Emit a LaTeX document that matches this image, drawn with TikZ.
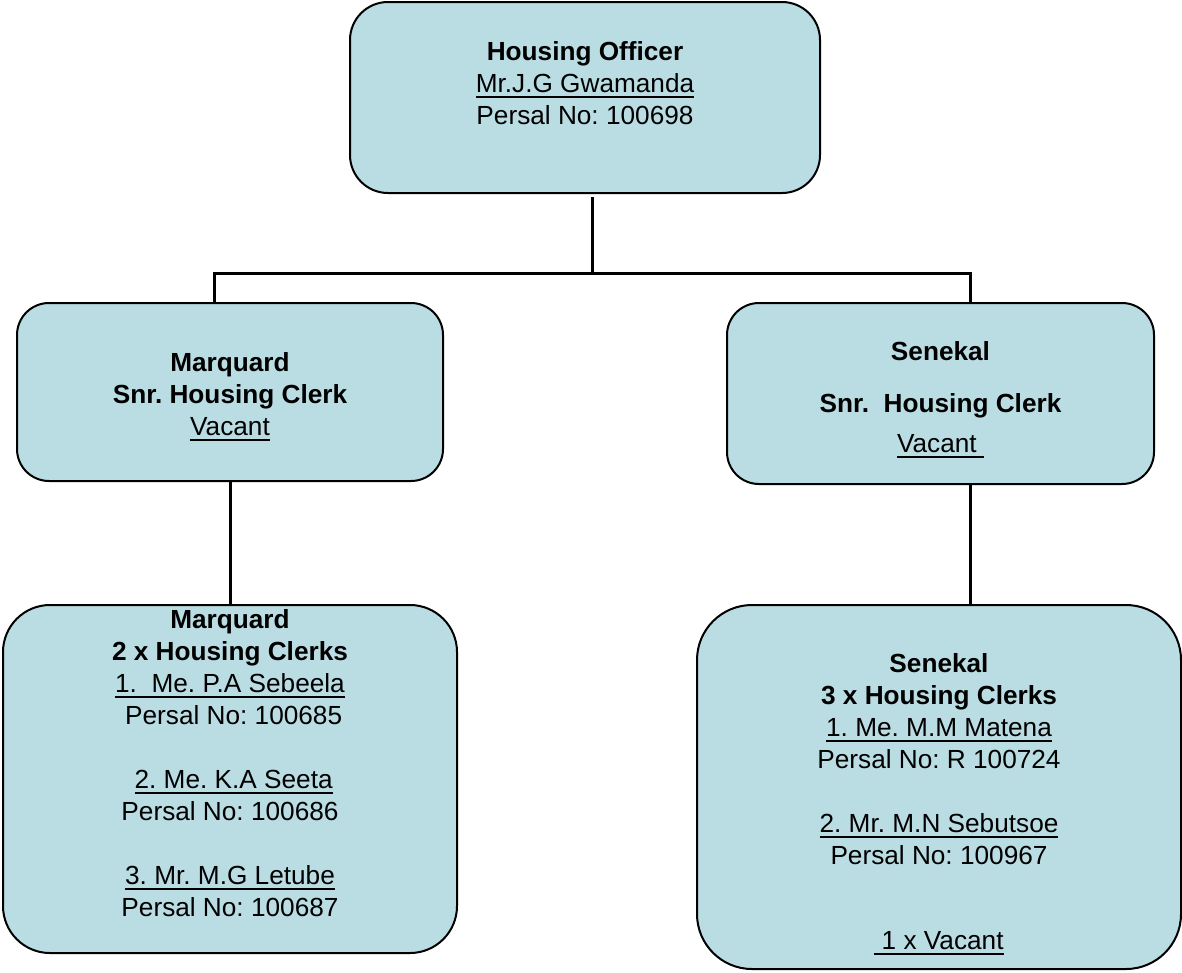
\documentclass[tikz,border=0pt]{standalone}
\usepackage{fontspec}
\setmainfont{Liberation Sans}
\usepackage{tikz}
\usetikzlibrary{positioning}
\definecolor{boxblue}{RGB}{186,221,228}
\newcommand{\uln}[1]{\setbox0\hbox{#1}\rlap{\rule[-5.7pt]{\wd0}{2pt}}\box0}
\tikzset{%
	office/.style   = {draw, rectangle, fill=boxblue, line width=2pt}, % Position box
	entry/.style    = {align=center, inner sep=0pt, font=\fontsize{26.2}{32}\selectfont\frenchspacing}, % Names
	wire/.style     = {line width=3pt}, % Connector
	waypoint/.style = {coordinate}, % Junction
}

\begin{document}
\begin{tikzpicture}[x=1pt,y=-1pt]
	\useasboundingbox (0,0) rectangle (1182,972);
	\node [office,rounded corners=38pt,minimum width=470pt,minimum height=191pt] (officer) at (585,97.5) {};
	\node [office,rounded corners=32pt,minimum width=426pt,minimum height=178pt] (marqsnr) at (230,392) {};
	\node [office,rounded corners=32pt,minimum width=427pt,minimum height=181pt] (senesnr) at (940.5,393.5) {};
	\node [office,rounded corners=47pt,minimum width=454pt,minimum height=348pt] (marqclerks) at (230,779) {};
	\node [office,rounded corners=55pt,minimum width=484pt,minimum height=364pt] (seneclerks) at (939,787) {};
	
	\node [entry] (officertxt) [below=40pt of officer.north] {\textbf{Housing Officer}\\ \uln{Mr.J.G Gwamanda}\\ Persal No: 100698};
	\node [entry] (marqsnrtxt) [below=50pt of marqsnr.north] {\textbf{Marquard}\\ \textbf{Snr. Housing Clerk}\\ \uln{Vacant}};
	\node [entry] (senesnrtxt) [below=39pt of senesnr.north] {\textbf{Senekal}\\[20pt] \textbf{Snr.\ \ Housing Clerk}\\[8pt] \uln{Vacant\ }};
	\node [entry] (marqclerkstxt) [below=5pt of marqclerks.north] {\textbf{Marquard}\\ \textbf{2 x Housing Clerks}\\ \uln{1.\ \ Me. P.A Sebeela}\\ \hspace*{.278em}Persal No: 100685\\[32pt] \hspace*{.278em}\uln{2. Me. K.A Seeta}\\ Persal No: 100686\\[32pt] \uln{3. Mr. M.G Letube}\\ Persal No: 100687};
	\node [entry] (seneclerkstxt) [below=49pt of seneclerks.north] {\textbf{Senekal}\\ \textbf{3 x Housing Clerks}\\ \uln{1. Me. M.M Matena}\\ Persal No: R 100724\\[32pt] \uln{2. Mr. M.N Sebutsoe}\\ Persal No: 100967\\[53pt] \uln{\ 1 x Vacant}};
	
	\node [waypoint] (jtop) at (592.5,273.5) {};
	\node [waypoint] (jleft) at (214,273.5) {};
	\node [waypoint] (jright) at (970,273.5) {};
	
	\draw [wire,shorten <=3pt] (officer.south -| jtop) -- (jtop);
	\draw [wire] (marqsnr.north -| jleft) -- (jleft) -- (jright) -- (senesnr.north -| jright);
	\draw [wire] (marqsnr.south) -- (marqclerks.north);
	\draw [wire] (senesnr.south -| jright) -- (seneclerks.north -| jright);
\end{tikzpicture}
\end{document}
